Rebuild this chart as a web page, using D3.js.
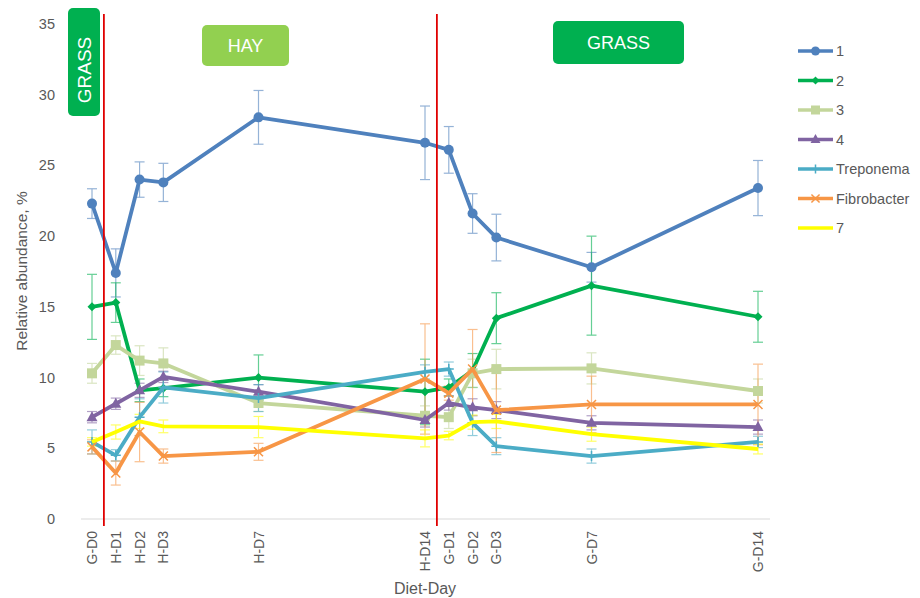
<!DOCTYPE html>
<html><head><meta charset="utf-8">
<script src="https://cdn.jsdelivr.net/npm/d3@7"></script>
<style>
body{margin:0;background:#fff;}
text{font-family:"Liberation Sans",Arial,sans-serif;}
</style></head>
<body><svg id="c" width="920" height="598"></svg>
<script>
const days = [0,1,2,3,7,14,15,16,17,21,28];
const dayLabels = ["G-D0","H-D1","H-D2","H-D3","H-D7","H-D14","G-D1","G-D2","G-D3","G-D7","G-D14"];
const seriesNames = ["1","2","3","4","Treponema","Fibrobacter","7"];
const seriesColors = ["#4f81bd","#00b050","#c3d69b","#8064a2","#4bacc6","#f79646","#ffff00"];
const seriesMarkers = ["circle","diamond","square","triangle","plus","cross","none"];
const s1 = [22.3,17.4,24.0,23.8,28.4,26.6,26.1,21.6,19.9,17.8,23.4];
const s1err = [1.05,1.7,1.25,1.35,1.9,2.6,1.65,1.4,1.65,1.05,1.95];
const s2 = [15.0,15.3,9.1,9.25,10.0,9.0,9.3,10.5,14.2,16.5,14.3];
const s2err = [2.3,1.4,0.8,0.6,1.6,2.3,0.6,1.2,1.8,3.5,1.8];
const s3 = [10.3,12.3,11.2,11.0,8.2,7.3,7.2,10.3,10.6,10.65,9.05];
const s3err = [0.7,0.65,1.05,1.1,0.6,0.7,0.8,1.0,1.4,1.1,0.85];
const s4 = [7.2,8.15,9.1,10.05,9.0,7.0,8.2,7.9,7.7,6.8,6.5];
const s4err = [0.4,0.4,0.5,0.4,0.5,0.5,0.5,0.6,0.6,0.5,0.5];
const trep = [5.45,4.5,7.2,9.3,8.55,10.4,10.6,6.8,5.15,4.45,5.45];
const trepErr = [0.85,0.4,1.3,1.1,0.95,0.5,0.5,0.9,0.6,0.5,0.4];
const fibro = [5.1,3.25,6.15,4.45,4.75,9.9,8.9,10.6,7.7,8.1,8.1];
const fibroErr = [0.5,0.85,2.1,0.5,0.6,3.9,0.5,2.8,3.0,2.0,2.85];
const s7 = [5.45,6.15,6.9,6.55,6.5,5.7,5.9,6.85,6.9,6.0,4.95];
const s7err = [0.3,0.5,0.5,0.45,0.75,0.6,0.3,0.5,0.5,0.5,0.35];
const yTicks = [0,5,10,15,20,25,30,35];
const dietChanges = [0.5,14.5];
const phaseLabels = [
  {text:"GRASS", x0:68, x1:100, y0:8, y1:116, color:"#00b050", vertical:true},
  {text:"HAY", x0:202, x1:289, y0:25, y1:66, color:"#92d050", vertical:false},
  {text:"GRASS", x0:553, x1:684, y0:21, y1:64, color:"#00b050", vertical:false}
];

const values = [s1,s2,s3,s4,trep,fibro,s7];
const errs = [s1err,s2err,s3err,s4err,trepErr,fibroErr,s7err];

const svg = d3.select("#c");
const x = d3.scaleLinear().domain([0,28]).range([92,758]);
const y = d3.scaleLinear().domain([0,35]).range([519,24]);
const gray = "#595959";

svg.append("g").selectAll("text").data(yTicks).join("text")
  .attr("x",55).attr("y",d=>y(d)+5).attr("text-anchor","end")
  .attr("font-size",14.5).attr("fill",gray).text(d=>d);

svg.append("line").attr("x1",81).attr("x2",770).attr("y1",y(0)).attr("y2",y(0))
  .attr("stroke","#d9d9d9").attr("stroke-width",1);

svg.append("g").selectAll("text").data(days).join("text")
  .attr("transform",(d,i)=>`translate(${x(d)+5},531) rotate(-90)`)
  .attr("text-anchor","end").attr("font-size",14).attr("fill",gray)
  .text((d,i)=>dayLabels[i]);

svg.append("text").attr("x",425).attr("y",594).attr("text-anchor","middle")
  .attr("font-size",16).attr("fill",gray).text("Diet-Day");
svg.append("text").attr("transform","translate(27,271) rotate(-90)").attr("text-anchor","middle")
  .attr("font-size",15.5).attr("fill",gray).text("Relative abundance, %");

values.forEach((vals,si)=>{
  const g = svg.append("g").attr("stroke",seriesColors[si]).attr("stroke-width",1.2).attr("opacity",0.6);
  vals.forEach((v,i)=>{
    const e = errs[si][i], cx = x(days[i]);
    g.append("line").attr("x1",cx).attr("x2",cx).attr("y1",y(v+e)).attr("y2",y(v-e));
    g.append("line").attr("x1",cx-5).attr("x2",cx+5).attr("y1",y(v+e)).attr("y2",y(v+e));
    g.append("line").attr("x1",cx-5).attr("x2",cx+5).attr("y1",y(v-e)).attr("y2",y(v-e));
  });
});

function marker(g, type, cx, cy, color, scale){
  scale = scale||1;
  if(type==="circle") g.append("circle").attr("cx",cx).attr("cy",cy).attr("r",5*scale).attr("fill",color);
  else if(type==="diamond") g.append("path").attr("d",`M${cx},${cy-4.5*scale}L${cx+4.5*scale},${cy}L${cx},${cy+4.5*scale}L${cx-4.5*scale},${cy}Z`).attr("fill",color);
  else if(type==="square") g.append("rect").attr("x",cx-5*scale).attr("y",cy-5*scale).attr("width",10*scale).attr("height",10*scale).attr("fill",color);
  else if(type==="triangle") g.append("path").attr("d",`M${cx},${cy-6*scale}L${cx+5.5*scale},${cy+4*scale}L${cx-5.5*scale},${cy+4*scale}Z`).attr("fill",color);
  else if(type==="plus") g.append("path").attr("d",`M${cx-5*scale},${cy}H${cx+5*scale}M${cx},${cy-5*scale}V${cy+5*scale}`).attr("stroke",color).attr("stroke-width",1.5);
  else if(type==="cross") g.append("path").attr("d",`M${cx-4.5*scale},${cy-4.5*scale}L${cx+4.5*scale},${cy+4.5*scale}M${cx+4.5*scale},${cy-4.5*scale}L${cx-4.5*scale},${cy+4.5*scale}`).attr("stroke",color).attr("stroke-width",1.5);
}

const line = d3.line().x((d,i)=>x(days[i])).y(d=>y(d));
values.forEach((vals,si)=>{
  const g = svg.append("g");
  g.append("path").datum(vals).attr("d",line).attr("fill","none")
    .attr("stroke",seriesColors[si]).attr("stroke-width",3.8).attr("stroke-linejoin","round");
  vals.forEach((v,i)=>marker(g,seriesMarkers[si],x(days[i]),y(v),seriesColors[si]));
});

svg.append("g").selectAll("line").data(dietChanges).join("line")
  .attr("x1",d=>x(d)).attr("x2",d=>x(d)).attr("y1",14).attr("y2",526)
  .attr("stroke","#e00000").attr("stroke-width",1.8);

phaseLabels.forEach(p=>{
  svg.append("rect").attr("x",p.x0).attr("y",p.y0).attr("width",p.x1-p.x0).attr("height",p.y1-p.y0)
    .attr("rx",5).attr("fill",p.color);
  const cx=(p.x0+p.x1)/2, cy=(p.y0+p.y1)/2;
  if(p.vertical){
    svg.append("text").attr("transform",`translate(${cx+7},${cy+8}) rotate(-90)`).attr("text-anchor","middle")
      .attr("font-size",19).attr("fill","#fff").text(p.text);
  } else {
    svg.append("text").attr("x",cx).attr("y",cy+6.5).attr("text-anchor","middle")
      .attr("font-size",18).attr("fill","#fff").text(p.text);
  }
});

const lg = svg.append("g");
seriesNames.forEach((n,i)=>{
  const ly = 51 + i*29.5;
  lg.append("line").attr("x1",798).attr("x2",833).attr("y1",ly).attr("y2",ly)
    .attr("stroke",seriesColors[i]).attr("stroke-width",3.5);
  marker(lg,seriesMarkers[i],815.5,ly,seriesColors[i],0.9);
  lg.append("text").attr("x",836).attr("y",ly+5).attr("font-size",14.5).attr("fill",gray).text(n);
});
</script></body></html>
